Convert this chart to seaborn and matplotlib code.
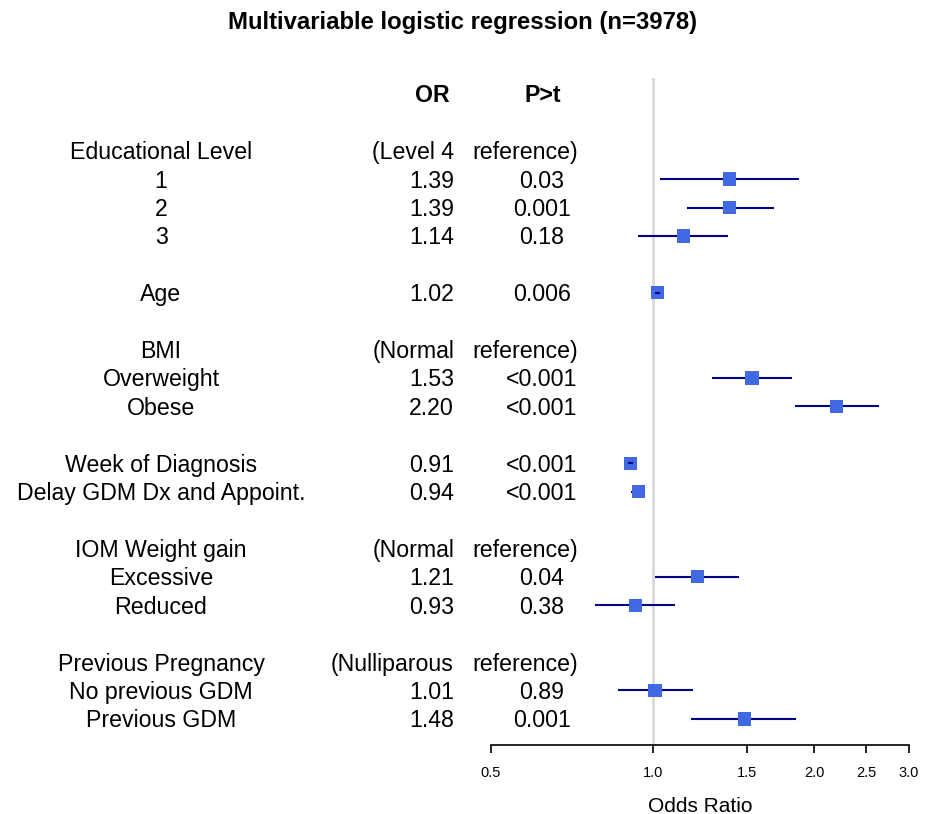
import numpy as np
import pandas as pd
import matplotlib
matplotlib.use("Agg")
import matplotlib.pyplot as plt
import matplotlib.transforms as mtransforms
import seaborn as sns

# rows of the table (row 0 = column header, row 1 = blank)
labels = ["Educational Level", "1", "2", "3", "", "Age", "", "BMI", "Overweight", "Obese", "",
          "Week of Diagnosis", "Delay GDM Dx and Appoint.", "", "IOM Weight gain", "Excessive",
          "Reduced", "", "Previous Pregnancy", "No previous GDM", "Previous GDM"]
or_text = ["(Level 4", "1.39", "1.39", "1.14", "", "1.02", "", "(Normal", "1.53", "2.20", "",
           "0.91", "0.94", "", "(Normal", "1.21", "0.93", "", "(Nulliparous", "1.01", "1.48"]
p_text = ["reference)", "0.03", "0.001", "0.18", "", "0.006", "", "reference)", "<0.001", "<0.001", "",
          "<0.001", "<0.001", "", "reference)", "0.04", "0.38", "", "reference)", "0.89", "0.001"]
odds = [np.nan, 1.39, 1.39, 1.14, np.nan, 1.02, np.nan, np.nan, 1.53, 2.20, np.nan,
        0.91, 0.94, np.nan, np.nan, 1.21, 0.93, np.nan, np.nan, 1.01, 1.48]
lower = [np.nan, 1.03, 1.16, 0.94, np.nan, 1.01, np.nan, np.nan, 1.29, 1.84, np.nan,
         0.90, 0.91, np.nan, np.nan, 1.01, 0.78, np.nan, np.nan, 0.86, 1.18]
upper = [np.nan, 1.87, 1.68, 1.38, np.nan, 1.03, np.nan, np.nan, 1.82, 2.64, np.nan,
         0.92, 0.96, np.nan, np.nan, 1.45, 1.10, np.nan, np.nan, 1.19, 1.85]
x_ticks = [0.5, 1.0, 1.5, 2.0, 2.5, 3.0]

df = pd.DataFrame({"label": labels, "OR": odds, "lo": lower, "hi": upper,
                   "or_txt": or_text, "p_txt": p_text})
df["row"] = np.arange(len(df)) + 2
est = df.dropna(subset=["OR"])

sns.set_style("white")
plt.rcParams["font.family"] = ["Liberation Sans", "DejaVu Sans"]
plt.rcParams["text.color"] = "black"
plt.rcParams["axes.labelcolor"] = "black"

W, H = 935, 814
fig = plt.figure(figsize=(W / 100, H / 100), dpi=100)
ax = fig.add_axes([491 / W, 69 / H, 418 / W, 667 / H])

ax.axvline(1.0, color="#d9d9d9", lw=2, zorder=0)

# confidence intervals: narrow ones (hidden inside the box) go on top
box_half = 0.022
for _, r in est.iterrows():
    inside = (np.log(r["OR"]) - np.log(r["lo"]) < box_half) and (np.log(r["hi"]) - np.log(r["OR"]) < box_half)
    ax.hlines(r["row"], r["lo"], r["hi"], color="#00008B", lw=1.5, zorder=4 if inside else 2)

sns.scatterplot(data=est, x="OR", y="row", marker="s", s=92, color="#4169E1",
                edgecolor="none", linewidth=0, ax=ax, zorder=3)

ax.set_xscale("log")
ax.set_xlim(0.5, 3.0)
ax.set_ylim(22.92, -0.56)
ax.set_xticks(x_ticks)
ax.set_xticklabels([f"{t:.1f}" for t in x_ticks])
ax.xaxis.set_minor_locator(matplotlib.ticker.NullLocator())
ax.set_yticks([])
ax.set_ylabel("")
ax.set_xlabel("Odds Ratio", fontsize=15, labelpad=12)
for s in ["top", "left", "right"]:
    ax.spines[s].set_visible(False)
ax.spines["bottom"].set_color("black")
ax.spines["bottom"].set_linewidth(1.2)
ax.tick_params(axis="x", direction="out", length=6, width=1.2, labelsize=10.5, pad=9,
               bottom=True, colors="black")

# table text
tr = mtransforms.blended_transform_factory(fig.transFigure, ax.transData)
fs = 16.7
dy = 0.07
ax.text(432 / W, dy, "OR", transform=tr, ha="center", va="center", fontsize=fs, fontweight="bold")
ax.text(543 / W, dy, "P>t", transform=tr, ha="center", va="center", fontsize=fs, fontweight="bold")
for _, r in df.iterrows():
    y = r["row"] + dy
    ax.text(161 / W, y, r["label"], transform=tr, ha="center", va="center", fontsize=fs)
    ax.text(454 / W, y, r["or_txt"], transform=tr, ha="right", va="center", fontsize=fs)
    if r["p_txt"] == "reference)":
        ax.text(578 / W, y, r["p_txt"], transform=tr, ha="right", va="center", fontsize=fs)
    else:
        ax.text(542 / W, y, r["p_txt"], transform=tr, ha="center", va="center", fontsize=fs)

fig.text(463 / W, 1 - 22 / H, "Multivariable logistic regression (n=3978)",
         ha="center", va="center", fontsize=17.2, fontweight="bold")

fig.savefig("out.png", dpi=100, facecolor="white")
